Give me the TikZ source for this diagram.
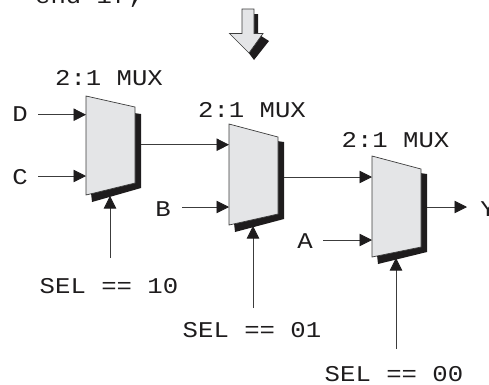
\documentclass[tikz,border=0pt]{standalone}
\usepackage{fontspec}
\usetikzlibrary{arrows.meta}
\newfontfamily\courfont[FakeStretch=1.14]{Liberation Mono}
\definecolor{muxfill}{RGB}{228,229,231}
\definecolor{inkdark}{RGB}{30,28,29}
\definecolor{wirecol}{RGB}{60,60,60}
\tikzset{
  lbl/.style={font=\courfont\fontsize{22.5}{25}\selectfont,text=inkdark,inner sep=0pt,anchor=base},
  wire/.style={draw=wirecol,line width=0.8pt,-{Triangle[length=12.5pt,width=12.5pt,color=inkdark]}},
  body/.style={fill=muxfill,draw=wirecol,line width=0.7pt}
}
% x, y, name, top-right drop, bottom-right drop, bottom-left drop, input1, input2, output
\newcommand{\muxat}[9]{%
  \begin{scope}[shift={(#1,#2)}]
    \fill[inkdark] (48,17) -- (55,18) -- ({55},{#5+5}) -- (6,{#6+7}) -- (5,{#6-2}) -- (48,#5) -- cycle;
    \draw[body] (0,0) -- (49,#4) -- (49,#5) -- (0,#6) -- cycle;
    \coordinate (#3i1) at (0,#7);
    \coordinate (#3i2) at (0,#8);
    \coordinate (#3o) at (55,#9);
    \coordinate (#3s) at (24,{#6+1});
  \end{scope}}
\begin{document}
\begin{tikzpicture}[x=1pt,y=-1pt]
\useasboundingbox (0,0) rectangle (489,384);
\clip (0,0) rectangle (489,384);
% big arrow
\fill[inkdark] (254,14) -- (258,14) -- (258,34) -- (269,41) -- (254,60) -- (248,52) -- cycle;
\draw[body] (242,9) -- (254,9) -- (254,33.5) -- (263,33.5) -- (249,53) -- (229.5,33.5) -- (242,33.5) -- cycle;
\node[lbl] (endif) at (89,3) {end if;};
% muxes
\muxat{86}{96}{a}{11}{87}{99}{18.7}{80}{48.7}
\muxat{229}{124}{b}{13}{90}{101}{20.7}{83}{53}
\muxat{372}{156}{c}{13}{91}{101}{21}{84}{51}
\node[lbl] (t1) at (109,85.5) {2:1 MUX};
\node[lbl] (t2) at (252,117) {2:1 MUX};
\node[lbl] (t3) at (395.5,147) {2:1 MUX};
\node[lbl] (D) at (20,121.5) {D};
\node[lbl] (C) at (20,184) {C};
\node[lbl] (B) at (163,216.5) {B};
\node[lbl] (A) at (305,248.5) {A};
\node[lbl] (Y) at (488,216) {Y};
\node[lbl] (s1) at (109,293) {SEL == 10};
\node[lbl] (s2) at (252,337) {SEL == 01};
\node[lbl] (s3) at (394,381.5) {SEL == 00};
\coordinate (Dw) at (38,114.7);
\coordinate (Cw) at (38,176);
\coordinate (Bw) at (182,207);
\coordinate (Aw) at (323,240);
\coordinate (Yw) at (467,207);
\coordinate (s1w) at (110,258);
\coordinate (s2w) at (253,308);
\coordinate (s3w) at (396,349);
\draw[wire] (Dw) -- (ai1);
\draw[wire] (Cw) -- (ai2);
\draw[wire] (ao) -- (bi1);
\draw[wire] (Bw) -- (bi2);
\draw[wire] (bo) -- (ci1);
\draw[wire] (Aw) -- (ci2);
\draw[wire] (co) -- (Yw);
\draw[wire] (s1w) -- (as);
\draw[wire] (s2w) -- (bs);
\draw[wire] (s3w) -- (cs);
\end{tikzpicture}
\end{document}
